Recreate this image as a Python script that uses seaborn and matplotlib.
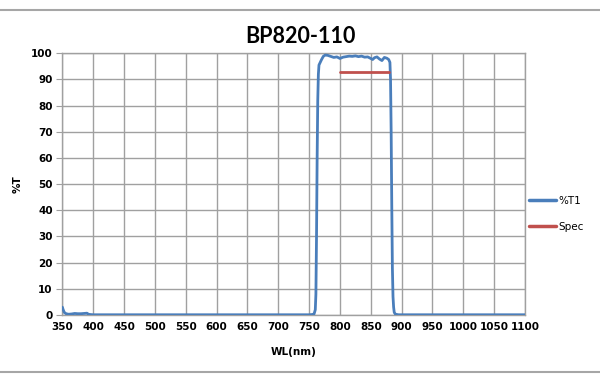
import matplotlib
matplotlib.use("Agg")
import matplotlib.pyplot as plt
import seaborn as sns
import pandas as pd
from matplotlib.lines import Line2D

# ---- data ----
wavelength = [350, 351, 353, 356, 360, 365, 370, 375, 380, 385, 390, 392, 395, 400,
              450, 500, 550, 600, 650, 700, 740, 750, 755, 758, 760, 761, 762, 763,
              764, 765, 766, 768, 770, 773, 776, 780, 785, 790, 795, 800, 805, 810,
              815, 820, 825, 830, 835, 840, 845, 850, 853, 856, 860, 864, 868, 872,
              876, 879, 881, 882, 883, 884, 885, 886, 887, 888, 890, 895, 900, 950,
              1000, 1050, 1100]
transmission = [3.0, 2.2, 1.0, 0.5, 0.3, 0.4, 0.6, 0.5, 0.5, 0.6, 0.7, 0.3, 0.2, 0.1,
                0.1, 0.1, 0.1, 0.1, 0.1, 0.1, 0.1, 0.1, 0.2, 0.4, 2.0, 8.0, 30.0, 60.0,
                82.0, 92.0, 95.5, 96.5, 97.5, 98.8, 99.3, 99.2, 98.8, 98.4, 98.6, 98.0, 98.5, 98.7,
                98.9, 98.8, 99.0, 98.7, 98.9, 98.5, 98.6, 98.0, 97.6, 98.3, 98.6, 97.8, 97.2, 98.4,
                98.1, 97.6, 96.5, 90.0, 70.0, 42.0, 18.0, 7.0, 3.0, 1.0, 0.3, 0.1, 0.1, 0.1,
                0.1, 0.1, 0.1]
spec_wavelength = [800, 880]
spec_value = [93, 93]

x_ticks = list(range(350, 1101, 50))
y_ticks = list(range(0, 101, 10))

df_t = pd.DataFrame({"WL": wavelength, "T": transmission})
df_s = pd.DataFrame({"WL": spec_wavelength, "T": spec_value})

sns.set_style("white")
plt.rcParams["font.family"] = ["DejaVu Sans"]
plt.rcParams["text.color"] = "black"
plt.rcParams["axes.labelcolor"] = "black"
plt.rcParams["xtick.color"] = "black"
plt.rcParams["ytick.color"] = "black"

fig = plt.figure(figsize=(6.0, 3.83), dpi=100)
ax = fig.add_axes([0.104, 0.1775, 0.771, 0.6835])

blue = "#4a7ebb"
red = "#c0504d"
sns.lineplot(data=df_t, x="WL", y="T", ax=ax, color=blue, linewidth=2.0, zorder=3)
sns.lineplot(data=df_s, x="WL", y="T", ax=ax, color=red, linewidth=2.0, zorder=3)

ax.set_xlim(350, 1100)
ax.set_ylim(0, 100)
ax.set_xticks(x_ticks)
ax.set_yticks(y_ticks)
ax.set_xticklabels([str(v) for v in x_ticks], fontsize=7.5, fontweight="bold")
ax.set_yticklabels([str(v) for v in y_ticks], fontsize=7.5, fontweight="bold")
ax.grid(True, color="#a0a0a0", linewidth=1.0)
ax.set_axisbelow(True)
for s in ax.spines.values():
    s.set_color("#a0a0a0")
    s.set_linewidth(1.0)
ax.tick_params(axis="y", which="both", length=4, color="#a0a0a0", pad=3, left=True,
               labelcolor="black")
ax.tick_params(axis="x", length=0, pad=5, labelcolor="black")

ax.set_xlabel("WL(nm)", fontsize=7.5, fontweight="bold", labelpad=11, color="black")
ax.set_ylabel("%T", fontsize=7.5, fontweight="bold", labelpad=6, color="black")
fig.text(0.5, 0.905, "BP820-110", ha="center", va="center", color="black",
         fontsize=15.5, fontweight="bold", family=["Lato", "DejaVu Sans"])

handles = [Line2D([0], [0], color=blue, lw=2.5), Line2D([0], [0], color=red, lw=2.5)]
leg = fig.legend(handles, ["%T1", "Spec"], loc="center left",
                 bbox_to_anchor=(0.866, 0.442), frameon=False,
                 fontsize=7.5, handlelength=2.6, handletextpad=0.2,
                 labelspacing=1.55)
for t in leg.get_texts():
    t.set_color("black")

# outer frame lines of the chart area
fig.add_artist(Line2D([0, 1], [1 - 10 / 383, 1 - 10 / 383], transform=fig.transFigure,
                      color="#a6a6a6", linewidth=1.5))
fig.add_artist(Line2D([0, 1], [1 - 372 / 383, 1 - 372 / 383], transform=fig.transFigure,
                      color="#a6a6a6", linewidth=1.5))

fig.savefig("out.png", dpi=100)
